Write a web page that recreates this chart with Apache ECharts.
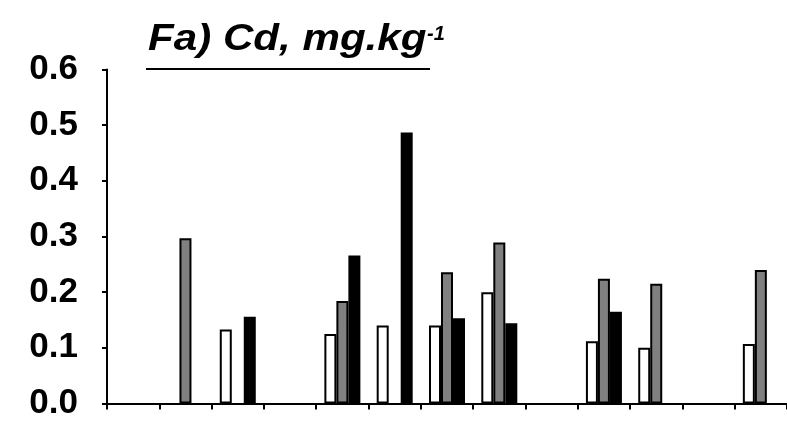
<!DOCTYPE html>
<html>
<head>
<meta charset="utf-8">
<script src="https://cdn.jsdelivr.net/npm/echarts@6/dist/echarts.min.js"></script>
<style>
    html, body { margin: 0; padding: 0; background: #fff; }
    #cd-chart { width: 787px; height: 421px; }
</style>
</head>
<body>
<div id="cd-chart"></div>
<script>
// sites along the x axis (no labels shown in the figure)
const categories = ['1', '2', '3', '4', '5', '6', '7', '8', '9', '10', '11', '12', '13'];
const yTicks = [0, 0.1, 0.2, 0.3, 0.4, 0.5, 0.6];

// Cd, mg/kg - three series per site, null where no bar
const whiteValues = [null, null, 0.133, null, 0.125, 0.140, 0.140, 0.200, null, 0.112, 0.100, null, 0.107];
const grayValues  = [null, 0.297, null, null, 0.184, null, 0.236, 0.289, null, 0.224, 0.215, null, 0.240];
const blackValues = [null, null, 0.156, null, 0.266, 0.487, 0.153, 0.144, null, 0.165, null, null, null];

const fontName = '"Liberation Sans", Arial, sans-serif';

const makeBar = (name, data, fill) => ({
    name: name,
    type: 'bar',
    data: data,
    barWidth: 12,
    barGap: '0%',
    itemStyle: {
        color: fill,
        borderColor: '#000',
        borderWidth: 2
    }
});

let cd_chart = echarts.init(document.getElementById('cd-chart'));

let cdOption = {
    animation: false,
    backgroundColor: '#fff',
    grid: {
        left: 107,
        right: 0,
        top: 69.5,
        bottom: 7.5,
        containLabel: false
    },
    xAxis: {
        type: 'category',
        data: categories,
        axisLine: { lineStyle: { color: '#000', width: 2 } },
        axisTick: { show: true, length: 6, lineStyle: { color: '#000', width: 2 } },
        axisLabel: { show: false },
        splitLine: { show: false }
    },
    yAxis: {
        type: 'value',
        min: yTicks[0],
        max: yTicks[yTicks.length - 1],
        interval: 0.1,
        axisLine: { show: true, lineStyle: { color: '#000', width: 2 } },
        axisTick: { show: true, length: 5, lineStyle: { color: '#000', width: 2 } },
        axisLabel: {
            margin: 29,
            color: '#000',
            fontFamily: fontName,
            fontWeight: 'bold',
            fontSize: 35,
            formatter: v => v.toFixed(1)
        },
        splitLine: { show: false }
    },
    graphic: [
        {
            type: 'text',
            x: 148,
            y: 40.5,
            scaleX: 1.17,
            style: {
                text: 'Fa) Cd, mg.kg',
                font: 'italic bold 36px ' + fontName,
                fill: '#000',
                align: 'left',
                verticalAlign: 'middle'
            }
        },
        {
            type: 'text',
            x: 427,
            y: 34,
            style: {
                text: '-1',
                font: 'italic bold 20px ' + fontName,
                fill: '#000',
                align: 'left',
                verticalAlign: 'middle'
            }
        },
        {
            type: 'line',
            shape: { x1: 146, y1: 69, x2: 430, y2: 69 },
            style: { stroke: '#000', lineWidth: 2 }
        }
    ],
    series: [
        makeBar('white', whiteValues, '#fff'),
        makeBar('gray', grayValues, '#808080'),
        makeBar('black', blackValues, '#000')
    ]
};

cd_chart.setOption(cdOption);
window.addEventListener('resize', cd_chart.resize);
</script>
</body>
</html>
